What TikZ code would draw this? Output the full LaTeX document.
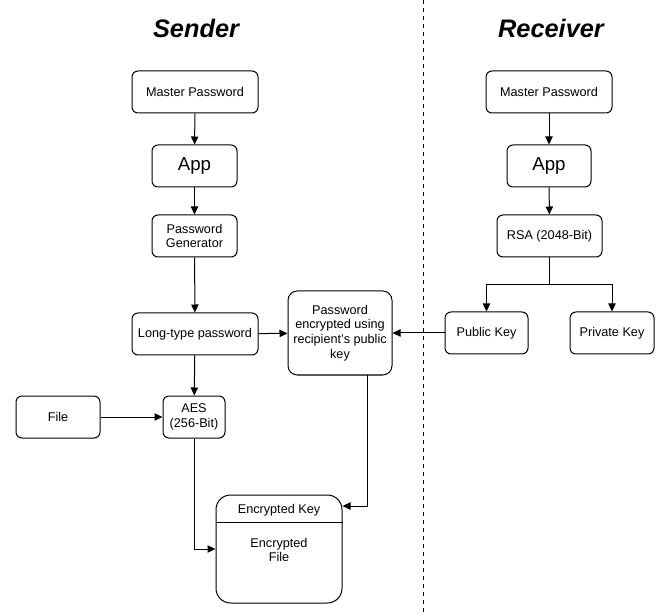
\documentclass[tikz,border=0pt]{standalone}
\usepackage{fontspec}
\setmainfont{Liberation Sans}
\usetikzlibrary{arrows.meta}

\begin{document}
\begin{tikzpicture}[x=0.75pt,y=-0.75pt,line width=0.75pt,>={Triangle[length=6pt,width=5.5pt]},
  box/.style={draw,rounded corners=4.5pt,fill=white,inner sep=0pt,align=center,
    minimum height=31.5pt,font=\fontsize{9.5}{11}\selectfont},
  big/.style={box,font=\fontsize{14}{16}\selectfont},
  title/.style={font=\fontsize{19}{22}\selectfont\bfseries\itshape}]
  \useasboundingbox (0,0) rectangle (660,616);
  % sender
  \node[title] (ts) at (196,28) {Sender};
  \node[box,minimum width=94.5pt] (smp) at (195,92) {Master Password};
  \node[big,minimum width=63.75pt] (sapp) at (194.5,166) {App};
  \node[box,minimum width=63.75pt] (gen) at (194.5,236) {Password\\Generator};
  \node[box,minimum width=94.5pt] (long) at (195,334) {Long-type password};
  \node[box,minimum width=78pt,minimum height=63pt,rounded corners=7pt] (enc) at (340,333)
    {Password\\encrypted using\\recipient's public\\key};
  \node[box,minimum width=63pt] (file) at (58,417) {File};
  \node[box,minimum width=46.5pt] (aes) at (194,417) {AES\\(256-Bit)};
  \node[box,minimum width=94.5pt,minimum height=81pt,rounded corners=11pt] (out) at (279,549) {};
  \draw (out.west|-0,522) -- (out.east|-0,522);
  \node[font=\fontsize{9.5}{11}\selectfont] at (279,510) {Encrypted Key};
  \node[font=\fontsize{9.5}{11}\selectfont,align=center] at (279,550) {Encrypted\\File};
  % receiver
  \draw[dashed,line width=0.6pt] (423,0) -- (423,616);
  \node[title] (tr) at (551,28) {Receiver};
  \node[box,minimum width=94.5pt] (rmp) at (549,92) {Master Password};
  \node[big,minimum width=63pt] (rapp) at (549,166) {App};
  \node[box,minimum width=78.75pt] (rsa) at (549.5,236) {RSA (2048-Bit)};
  \node[box,minimum width=62.25pt] (pub) at (486.5,333) {Public Key};
  \node[box,minimum width=63pt] (priv) at (612,333) {Private Key};
  % arrows
  \draw[->] (smp) -- (sapp);
  \draw[->] (sapp) -- (gen);
  \draw[->] (gen) -- (long);
  \draw[->] (long) -- (enc);
  \draw[->] (long) -- (aes);
  \draw[->] (file) -- (aes);
  \draw[->] (aes.south) |- (out.west|-0,549);
  \draw[->] (enc.south-|367,0) |- (out.east|-0,506);
  \draw[->] (rmp) -- (rapp);
  \draw[->] (rapp) -- (rsa);
  \draw[->] (rsa.south) -- (549.5,285) -| (pub.north);
  \draw[->] (rsa.south) -- (549.5,285) -| (priv.north);
  \draw[->] (pub) -- (enc);
\end{tikzpicture}
\end{document}
